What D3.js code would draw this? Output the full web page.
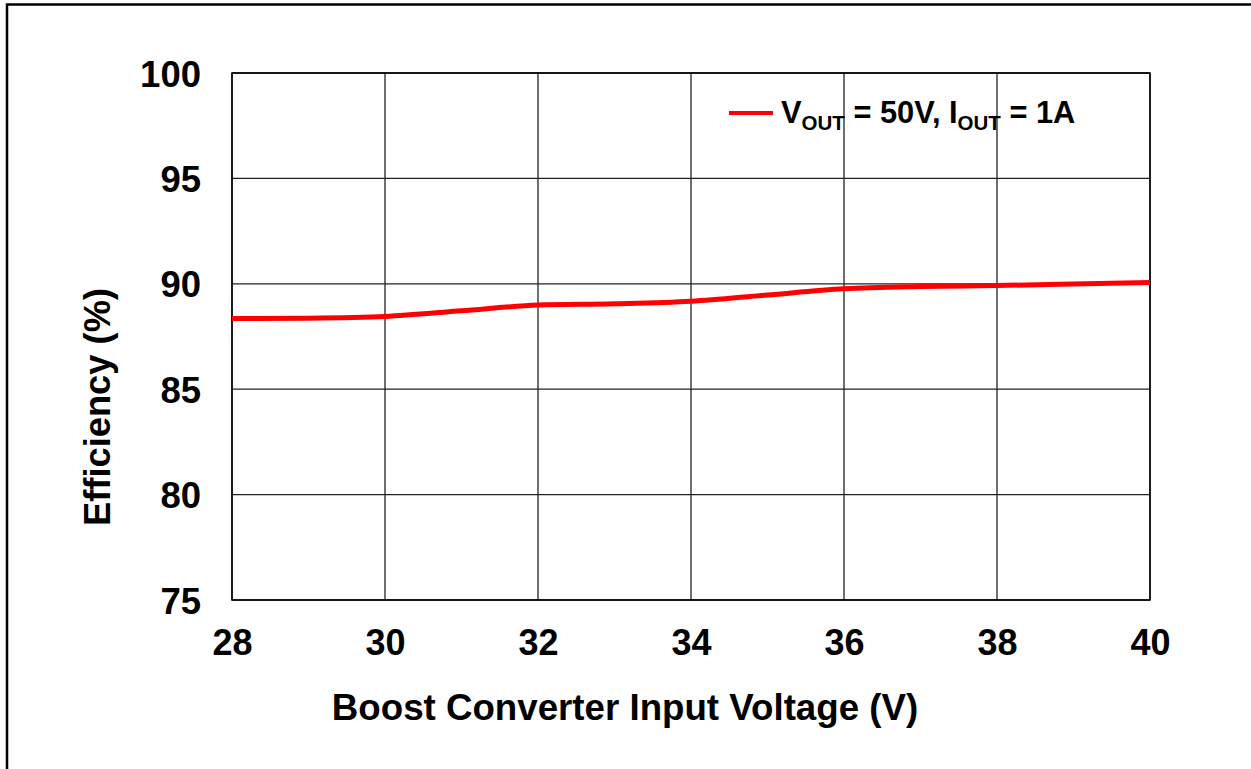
<!DOCTYPE html>
<html>
<head>
<meta charset="utf-8">
<script src="https://cdn.jsdelivr.net/npm/d3@7"></script>
<style>
  html, body { margin: 0; padding: 0; background: #fff; }
  svg { display: block; font-family: "Liberation Sans", Arial, sans-serif; font-weight: bold; }
</style>
</head>
<body>
<svg id="chart" width="1251" height="769"></svg>
<script>
// Datos
const vin = [28, 29, 30, 31, 32, 33, 34, 35, 36, 37, 38, 39, 40];
const efficiency = [88.35, 88.37, 88.45, 88.72, 88.99, 89.05, 89.17, 89.47, 89.76, 89.87, 89.92, 89.99, 90.06];
const xTicks = [28, 30, 32, 34, 36, 38, 40];
const yTicks = [75, 80, 85, 90, 95, 100];

const svg = d3.select('#chart');
const plot = { left: 232, top: 73, right: 1150, bottom: 600 };

const x = d3.scaleLinear().domain([28, 40]).range([plot.left, plot.right]);
const y = d3.scaleLinear().domain([75, 100]).range([plot.bottom, plot.top]);

// Marco exterior
svg.append('rect')
    .attr('x', 7).attr('y', 4.5)
    .attr('width', 1300).attr('height', 900)
    .attr('fill', 'none').attr('stroke', '#000').attr('stroke-width', 2.5);

// Rejilla
svg.append('g').selectAll('line')
    .data(xTicks)
    .enter().append('line')
    .attr('x1', d => x(d)).attr('x2', d => x(d))
    .attr('y1', plot.top).attr('y2', plot.bottom)
    .attr('stroke', '#222').attr('stroke-width', 1.3);

svg.append('g').selectAll('line')
    .data(yTicks)
    .enter().append('line')
    .attr('x1', plot.left).attr('x2', plot.right)
    .attr('y1', d => y(d)).attr('y2', d => y(d))
    .attr('stroke', '#222').attr('stroke-width', 1.3);

svg.append('rect')
    .attr('x', plot.left).attr('y', plot.top)
    .attr('width', plot.right - plot.left).attr('height', plot.bottom - plot.top)
    .attr('fill', 'none').attr('stroke', '#000').attr('stroke-width', 1.5);

// Etiquetas de los ejes
const xAxis = d3.axisBottom(x).tickValues(xTicks).tickSize(0).tickPadding(0);
const gx = svg.append('g')
    .attr('transform', `translate(0, ${plot.bottom})`)
    .call(xAxis);
gx.select('.domain').remove();
gx.selectAll('text')
    .attr('y', 55).attr('dy', null)
    .attr('fill', '#000')
    .attr('font-size', '36px')
    .attr('font-family', '"Liberation Sans", Arial, sans-serif')
    .attr('font-weight', 'bold');

const yAxis = d3.axisLeft(y).tickValues(yTicks).tickSize(0).tickPadding(0);
const gy = svg.append('g')
    .attr('transform', `translate(${plot.left}, 0)`)
    .call(yAxis);
gy.select('.domain').remove();
gy.selectAll('text')
    .attr('x', -31).attr('dy', '0.36em')
    .attr('fill', '#000')
    .attr('font-size', '36.5px')
    .attr('font-family', '"Liberation Sans", Arial, sans-serif')
    .attr('font-weight', 'bold');

// Títulos
svg.append('text')
    .attr('x', 625).attr('y', 720)
    .attr('text-anchor', 'middle')
    .attr('font-size', '36.7px')
    .text('Boost Converter Input Voltage (V)');

svg.append('text')
    .attr('transform', 'translate(110, 407) rotate(-90)')
    .attr('text-anchor', 'middle')
    .attr('font-size', '36.3px')
    .text('Efficiency (%)');

// Curva
const line = d3.line()
    .x((d, i) => x(vin[i]))
    .y(d => y(d))
    .curve(d3.curveMonotoneX);

svg.append('path')
    .datum(efficiency)
    .attr('fill', 'none')
    .attr('stroke', '#ff0000')
    .attr('stroke-width', 5)
    .attr('d', line);

// Leyenda
svg.append('line')
    .attr('x1', 729).attr('x2', 773)
    .attr('y1', 113).attr('y2', 113)
    .attr('stroke', '#ff0000').attr('stroke-width', 4);

const legend = svg.append('text')
    .attr('x', 781).attr('y', 123)
    .attr('font-size', '30.8px');
legend.append('tspan').text('V');
legend.append('tspan').attr('font-size', '20.5px').attr('dy', 7).text('OUT');
legend.append('tspan').attr('dy', -7).text(' = 50V, I');
legend.append('tspan').attr('font-size', '20.5px').attr('dy', 7).text('OUT');
legend.append('tspan').attr('dy', -7).text(' = 1A');
</script>
</body>
</html>
